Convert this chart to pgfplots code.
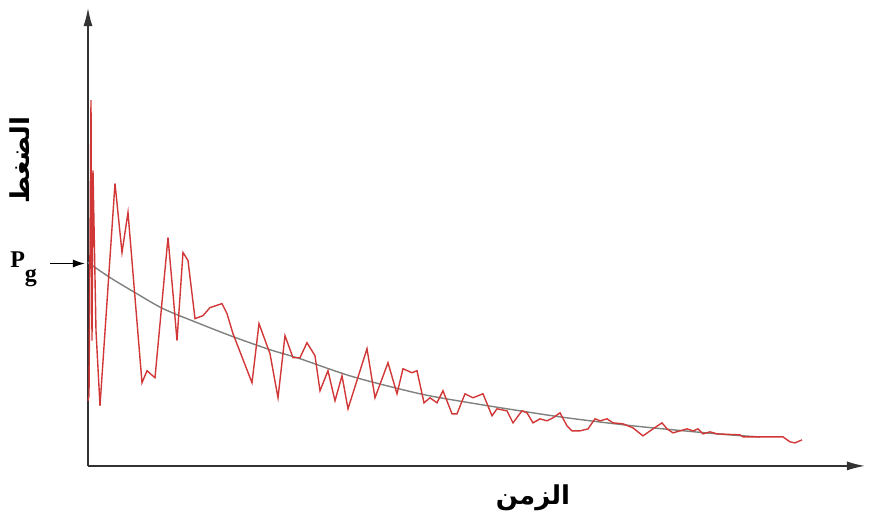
\documentclass[border=0pt]{standalone}
\usepackage{pgfplots}
\pgfplotsset{compat=1.18}
\usetikzlibrary{arrows.meta}
\usepackage{fontspec}
\newfontfamily\arabicfont[Script=Arabic]{DejaVu Sans}
\setmainfont{Liberation Serif}
\TeXXeTstate=1
\definecolor{redline}{RGB}{210,55,55}
\definecolor{grayline}{RGB}{125,130,125}
\begin{document}
\begin{tikzpicture}
\begin{axis}[
  scale only axis, width=388.5pt, height=228.5pt,
  xmin=0, xmax=777, ymin=0, ymax=457,
  axis lines=left,
  axis line style={line width=0.7pt, black!80, -{Latex[length=9pt,width=4.5pt]}},
  xtick=\empty, ytick=\empty,
  clip=false,
]
\addplot[grayline, line width=0.7pt, smooth] coordinates {
(0,203) (22,188) (47,173) (75,157) (109,143) (145,129) (182,116) (212,107)
(265,89) (332,72) (382,63) (432,55) (479,48) (545,40) (629,32) (672,29)};
\addplot[redline, line width=0.7pt] coordinates {
(0,65) (1,70) (3,365) (4,125) (5,295) (8,135) (12,60) (27,282) (34,213) (40,253)
(54,83) (59,95) (67,88) (80,228) (85,172) (89,125) (95,213) (100,205) (107,147)
(115,150) (122,158) (134,162) (139,152) (145,132) (164,83) (171,142) (182,112)
(190,68) (197,130) (205,108) (212,108) (219,123) (227,110) (232,75) (240,95)
(247,65) (254,90) (260,57) (279,117) (287,68) (300,103) (309,72) (315,97)
(324,93) (329,95) (336,63) (342,68) (349,63) (355,75) (364,52) (369,52)
(377,72) (385,68) (395,72) (404,50) (409,57) (419,55) (425,43) (434,55)
(439,53) (445,43) (452,47) (459,45) (465,48) (472,53) (479,40) (484,35)
(492,35) (500,37) (507,47) (512,45) (519,47) (525,43) (535,42) (545,38)
(555,30) (565,37) (574,43) (579,37) (585,33) (592,35) (599,37) (605,35)
(610,37) (615,32) (622,34) (629,32) (652,31) (655,29) (695,29) (702,24)
(707,23) (714,26)};
\draw[black, line width=0.7pt, -{Latex[length=6pt,width=4pt]}] (axis cs:-38,202) -- (axis cs:-3,202);
\node[anchor=east, font=\fontsize{12}{12}\selectfont\bfseries] at (axis cs:-44,196) {P\raisebox{-1.3ex}{g}};
\node[rotate=90, font=\fontsize{13}{15}\selectfont\bfseries] at (axis cs:-68,305) {\arabicfont\beginR الضغط\endR};
\node[font=\fontsize{13}{15}\selectfont\bfseries] at (axis cs:445,-32) {\arabicfont\beginR الزمن\endR};
\coordinate (bl) at (axis cs:-88,-55);
\coordinate (tr) at (axis cs:787,465);
\end{axis}
\pgfresetboundingbox
\path[use as bounding box] (bl) rectangle (tr);
\end{tikzpicture}
\end{document}
